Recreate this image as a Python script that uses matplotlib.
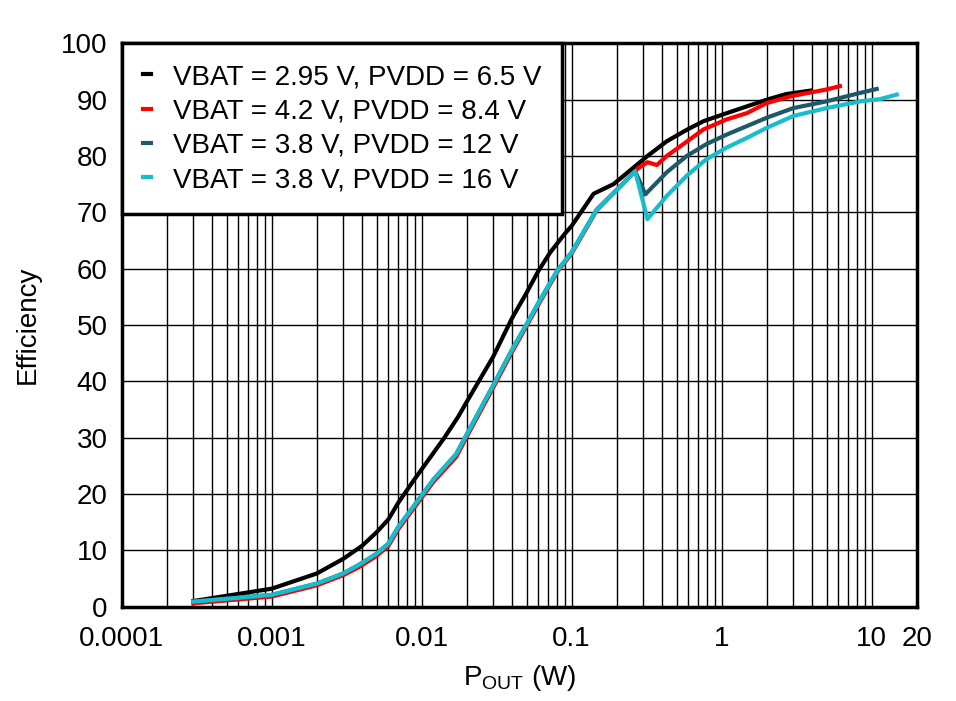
import matplotlib
matplotlib.use("Agg")
import matplotlib.pyplot as plt
from matplotlib.ticker import FixedLocator, NullFormatter

plt.rcParams['font.family'] = ['Liberation Sans', 'DejaVu Sans']
plt.rcParams['mathtext.fontset'] = 'custom'
plt.rcParams['mathtext.rm'] = 'Liberation Sans'

# Datos (POUT en W, eficiencia en %)
p_295 = [0.0003, 0.001, 0.002, 0.003, 0.004, 0.005, 0.006, 0.007, 0.009, 0.014, 0.0175,
         0.02, 0.03, 0.04, 0.05, 0.06, 0.072, 0.09, 0.1, 0.14, 0.19, 0.26, 0.32, 0.43,
         0.59, 0.76, 1.08, 1.47, 2.0, 2.7, 3.9]
ef_295 = [1.0, 3.2, 5.9, 8.5, 10.8, 13.2, 15.5, 18.5, 22.7, 29.8, 33.7,
          36.4, 44.4, 51.2, 55.7, 59.6, 62.9, 66.2, 67.6, 73.3, 75.0, 78.0, 80.0, 82.6,
          84.7, 86.2, 87.6, 88.8, 90.0, 91.0, 91.6]

p_42 = [0.0003, 0.001, 0.00115, 0.002, 0.003, 0.0038, 0.005, 0.006, 0.007, 0.012, 0.017,
        0.02, 0.03, 0.04, 0.05, 0.06, 0.08, 0.1, 0.147, 0.2, 0.265, 0.28, 0.32, 0.37,
        0.43, 0.555, 0.755, 1.08, 1.47, 2.0, 3.0, 5.0, 6.15]
ef_42 = [0.6, 1.8, 2.2, 3.8, 5.6, 7.0, 9.0, 10.8, 13.8, 22.2, 26.6,
         30.2, 38.9, 45.2, 49.8, 53.6, 59.4, 62.7, 70.4, 74.0, 77.3, 77.9, 78.9, 78.4,
         80.0, 82.1, 84.7, 86.5, 87.6, 89.4, 90.7, 91.8, 92.4]

p_12 = [0.0003, 0.001, 0.00115, 0.002, 0.003, 0.0038, 0.005, 0.006, 0.007, 0.012, 0.017,
        0.02, 0.03, 0.04, 0.05, 0.06, 0.08, 0.1, 0.147, 0.2, 0.265, 0.31, 0.43,
        0.585, 0.79, 1.08, 1.47, 2.0, 3.0, 5.0, 8.4, 10.8]
ef_12 = [0.9, 2.1, 2.5, 4.1, 5.9, 7.4, 9.4, 11.2, 14.2, 22.6, 27.1,
         30.6, 39.3, 45.6, 50.1, 53.9, 59.6, 62.9, 70.5, 74.0, 77.3, 73.2, 77.1,
         80.0, 82.1, 83.8, 85.3, 86.8, 88.5, 89.7, 91.2, 91.9]

p_16 = [0.0003, 0.001, 0.00115, 0.002, 0.003, 0.0038, 0.005, 0.006, 0.007, 0.012, 0.017,
        0.02, 0.03, 0.04, 0.05, 0.06, 0.08, 0.1, 0.147, 0.2, 0.265, 0.32, 0.43,
        0.585, 0.79, 1.08, 1.47, 2.0, 3.0, 5.0, 8.4, 11.4, 14.7]
ef_16 = [0.9, 2.1, 2.5, 4.1, 5.9, 7.4, 9.4, 11.2, 14.2, 22.6, 27.1,
         30.6, 39.3, 45.6, 50.1, 53.9, 59.6, 62.9, 70.5, 74.0, 77.3, 68.8, 72.9,
         76.5, 79.4, 81.5, 83.2, 85.0, 87.1, 88.5, 89.7, 90.1, 90.9]

etiquetas = ['VBAT = 2.95 V, PVDD = 6.5 V', 'VBAT = 4.2 V, PVDD = 8.4 V',
             'VBAT = 3.8 V, PVDD = 12 V', 'VBAT = 3.8 V, PVDD = 16 V']
colores = ['#000000', '#FF0000', '#1C5A69', '#17BCCD']

xticks = [0.0001, 0.001, 0.01, 0.1, 1, 10, 20]
xtick_labels = ['0.0001', '0.001', '0.01', '0.1', '1', '10', '20']
yticks = list(range(0, 101, 10))

fig = plt.figure(figsize=(9.56, 7.01), dpi=100)
ax = fig.add_axes([0.1273, 0.1345, 0.8317, 0.8037])

series = [(p_295, ef_295), (p_42, ef_42), (p_12, ef_12), (p_16, ef_16)]
for (xs, ys), lab, c in zip(series, etiquetas, colores):
    ax.plot(xs, ys, color=c, lw=3.0, label=lab, zorder=3)

ax.set_xscale('log')
ax.set_xlim(0.0001, 20)
ax.set_ylim(0, 100)

minors = [m * 10.0 ** e for e in range(-4, 2) for m in range(2, 10)]
ax.xaxis.set_minor_locator(FixedLocator(minors))
ax.xaxis.set_minor_formatter(NullFormatter())
ax.set_xticks(xticks)
ax.set_xticklabels(xtick_labels)
ax.set_yticks(yticks)

ax.grid(True, which='major', axis='both', color='black', lw=1.0)
ax.grid(True, which='minor', axis='x', color='black', lw=1.0)
ax.set_axisbelow(True)

ax.tick_params(axis='both', which='both', length=0, labelsize=20)
ax.tick_params(axis='x', pad=14)
ax.tick_params(axis='y', pad=10)

for s in ax.spines.values():
    s.set_linewidth(2.5)
    s.set_zorder(5)

ax.set_xlabel(r'P$_{\mathrm{OUT}}$ (W)', fontsize=20, labelpad=8)
ax.set_ylabel('Efficiency', fontsize=20, labelpad=15)

leg = ax.legend(loc='upper left', fontsize=20, handlelength=0.3, handletextpad=0.8,
                labelspacing=0.3, borderaxespad=0, borderpad=0.75, fancybox=False,
                framealpha=1, edgecolor='black')
leg.get_frame().set_linewidth(2.5)
leg.set_zorder(6)

plt.savefig('out.png', dpi=100)
